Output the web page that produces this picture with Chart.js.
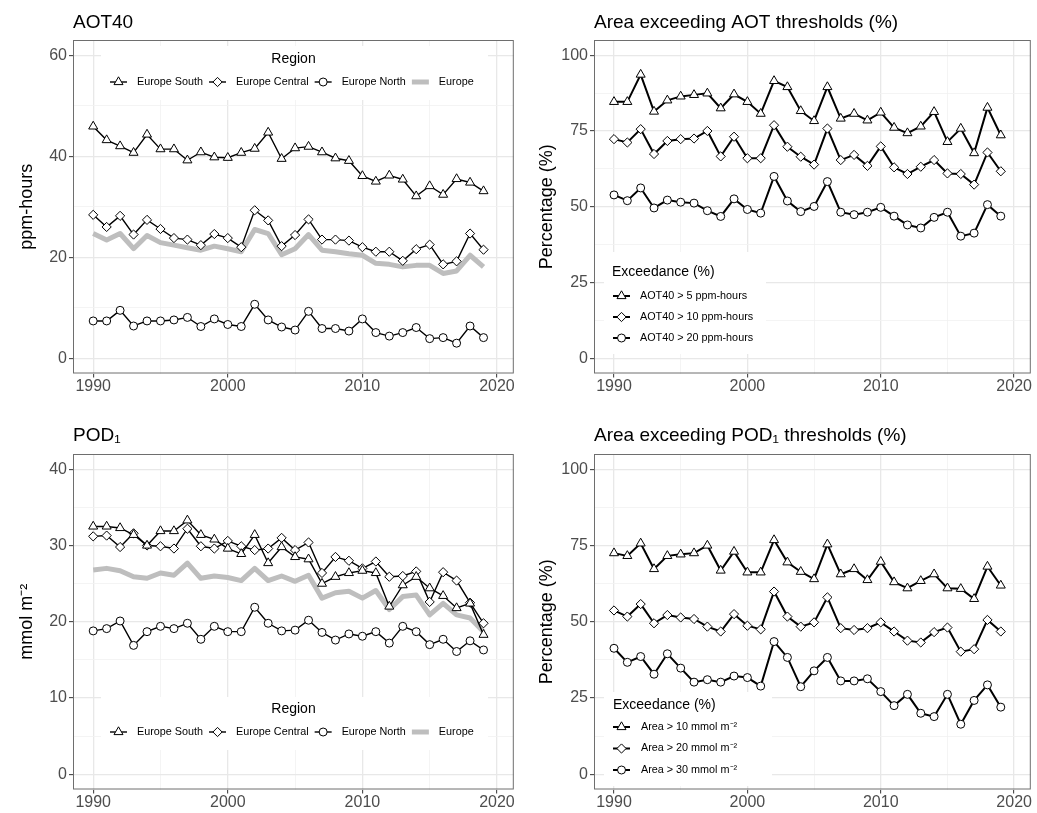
<!DOCTYPE html>
<html>
<head>
<meta charset="utf-8">
<script src="https://cdn.jsdelivr.net/npm/chart.js@4.4.1/dist/chart.umd.min.js"></script>
<style>
  html, body { margin: 0; padding: 0; background: #fff; }
  #wrap { position: relative; width: 1037px; height: 813px; overflow: hidden; }
  canvas { position: absolute; }
</style>
</head>
<body>
<div id="wrap">
  <canvas id="aot" width="520" height="400" style="left:0;top:0"></canvas>
  <canvas id="aotArea" width="517" height="400" style="left:520px;top:0"></canvas>
  <canvas id="pod" width="520" height="413" style="left:0;top:400px"></canvas>
  <canvas id="podArea" width="517" height="413" style="left:520px;top:400px"></canvas>
</div>
<script>
// ---- data ----
const years = [1990,1991,1992,1993,1994,1995,1996,1997,1998,1999,2000,2001,2002,2003,2004,
               2005,2006,2007,2008,2009,2010,2011,2012,2013,2014,2015,2016,2017,2018,2019];
const regionNames = ['Europe South', 'Europe Central', 'Europe North', 'Europe'];
const aotClassNames = ['AOT40 > 5 ppm-hours', 'AOT40 > 10 ppm-hours', 'AOT40 > 20 ppm-hours'];
const podClassNames = ['Area > 10 mmol m\u207B\u00B2', 'Area > 20 mmol m\u207B\u00B2', 'Area > 30 mmol m\u207B\u00B2'];

const xTicks = [1990,1995,2000,2005,2010,2015,2020];
const aotTicks = [0,10,20,30,40,50,60];
const pctTicks = [0,12.5,25,37.5,50,62.5,75,87.5,100];
const podTicks = [0,5,10,15,20,25,30,35,40];

// AOT40 (ppm-hours)
const aotSouth   = [45.9,43.2,42.0,40.7,44.3,41.4,41.4,39.2,40.8,39.8,39.7,40.7,41.5,44.7,39.5,
                    41.6,41.9,40.8,39.6,39.1,36.1,35.0,36.2,35.4,32.1,34.1,32.4,35.5,34.8,33.1];
const aotCentral = [28.4,26.0,28.2,24.5,27.4,25.6,23.8,23.5,22.4,24.6,23.8,22.0,29.3,27.3,22.2,
                    24.4,27.5,23.5,23.5,23.3,22.0,21.1,21.1,19.3,21.6,22.5,18.6,19.2,24.7,21.5];
const aotNorth   = [7.4,7.4,9.5,6.4,7.4,7.4,7.6,8.1,6.3,7.8,6.7,6.3,10.7,7.6,6.2,
                    5.6,9.3,5.9,5.9,5.4,7.8,5.1,4.4,5.1,6.1,3.9,4.1,3.0,6.4,4.1];
const aotEurope  = [24.7,23.4,24.7,21.7,24.3,22.9,22.4,21.9,21.4,22.2,21.7,21.1,25.5,24.7,20.5,
                    21.7,24.5,21.4,21.1,20.7,20.4,18.8,18.6,18.1,18.4,18.4,16.8,17.3,20.4,18.1];

// Area exceeding AOT thresholds (%)
const aotArea5  = [84.6,84.6,93.6,81.4,85.1,86.4,86.9,87.4,82.5,87.1,84.6,80.7,91.5,89.5,81.6,
                   78.3,89.5,79.1,80.7,78.5,81.1,76.1,74.3,76.5,81.3,71.4,75.8,67.7,82.7,73.6];
const aotArea10 = [72.3,71.2,75.6,67.4,71.7,72.3,72.5,75.0,66.6,73.1,66.0,66.0,76.9,69.8,66.5,
                   63.9,75.8,65.4,67.1,63.5,69.9,63.0,60.8,63.2,65.4,61.0,60.8,57.3,67.9,61.7];
const aotArea20 = [53.9,52.0,56.2,49.6,52.2,51.5,51.2,48.7,46.8,52.6,49.1,47.9,60.0,51.9,48.4,
                   50.1,58.3,48.2,47.4,48.2,49.8,46.9,44.0,43.0,46.5,48.2,40.3,41.3,50.7,46.9];

// POD1 (mmol m-2)
const podSouth   = [32.5,32.5,32.3,31.4,30.0,31.9,31.9,33.3,31.4,30.8,29.6,28.9,31.4,27.7,29.8,
                    28.5,28.2,25.0,25.9,26.4,26.7,26.4,22.0,24.8,25.9,24.4,23.4,21.8,22.4,18.3];
const podCentral = [31.2,31.3,29.8,31.6,30.0,29.9,29.6,32.2,29.9,29.6,30.6,29.9,29.4,29.6,31.0,
                    29.4,30.4,26.4,28.5,28.0,27.0,27.9,25.9,26.0,26.6,22.6,26.5,25.4,22.5,19.8];
const podNorth   = [18.8,19.1,20.1,16.9,18.7,19.4,19.1,19.8,17.7,19.4,18.7,18.7,21.9,19.8,18.8,
                    18.9,20.2,18.6,17.6,18.4,18.1,18.7,17.2,19.4,18.7,17.0,17.7,16.1,17.5,16.3];
const podEurope  = [26.8,27.0,26.7,25.9,25.7,26.4,26.1,27.7,25.7,26.0,25.8,25.4,27.0,25.4,26.0,
                    25.3,26.1,23.1,23.8,24.0,23.1,24.1,21.6,23.3,23.5,20.9,22.4,20.9,20.5,18.7];

// Area exceeding POD1 thresholds (%)
const podArea10 = [72.5,71.6,75.7,67.3,71.6,72.1,72.5,75.0,66.8,73.0,66.2,66.2,76.8,69.5,66.4,
                   64.0,75.4,65.6,67.3,63.7,69.7,63.0,61.0,63.4,65.6,61.0,60.8,57.5,68.1,61.9];
const podArea20 = [53.7,51.7,55.8,49.5,52.2,51.4,50.9,48.4,46.8,52.5,48.7,47.5,59.9,51.7,48.4,
                   49.8,58.0,47.9,47.3,47.9,49.8,46.8,43.8,43.2,46.6,48.1,40.2,41.0,50.6,46.8];
const podArea30 = [41.3,36.7,38.6,32.8,39.5,34.8,30.2,31.0,30.2,32.2,31.7,28.9,43.5,38.3,28.7,
                   33.9,38.3,30.6,30.6,31.3,27.1,22.5,26.2,20.0,18.9,26.2,16.4,24.2,29.3,22.0];

// ---- drawing ----
const FONT = "'Liberation Sans', Arial, sans-serif";
Chart.defaults.font.family = FONT;

function toPoints(vals) {
  return vals.map((v, i) => ({ x: years[i], y: v }));
}

function lineSeries(label, vals, style, radius, width) {
  return {
    label, data: toPoints(vals),
    borderColor: '#000', borderWidth: width,
    pointStyle: style, pointRadius: radius,
    pointBackgroundColor: '#fff', pointBorderColor: '#000', pointBorderWidth: 1,
    tension: 0, order: 0
  };
}

function greySeries(label, vals) {
  return {
    label, data: toPoints(vals),
    borderColor: '#bebebe', borderWidth: 5, borderJoinStyle: 'round',
    pointRadius: 0, tension: 0, order: 1
  };
}

function isMajor(v, step) {
  const r = Math.abs(v % step);
  return r < 1e-6 || Math.abs(r - step) < 1e-6;
}

// major lines carry a label and a tick mark, minor ones are just fainter
function gridFor(step) {
  return {
    color: c => isMajor(c.tick.value, step) ? '#e8e8e8' : '#f1f1f1',
    lineWidth: c => isMajor(c.tick.value, step) ? 1.3 : 0.8,
    tickColor: c => isMajor(c.tick.value, step) ? '#333' : 'rgba(0,0,0,0)',
    tickLength: 4,
    tickWidth: 1
  };
}

function drawMarker(ctx, style, x, y, r) {
  ctx.beginPath();
  if (style === 'triangle') {
    ctx.moveTo(x, y - r);
    ctx.lineTo(x + r * 0.866, y + r * 0.5);
    ctx.lineTo(x - r * 0.866, y + r * 0.5);
  } else if (style === 'rectRot') {
    ctx.moveTo(x - r, y);
    ctx.lineTo(x, y - r);
    ctx.lineTo(x + r, y);
    ctx.lineTo(x, y + r);
  } else {
    ctx.arc(x, y, r, 0, Math.PI * 2);
  }
  ctx.closePath();
  ctx.fillStyle = '#fff';
  ctx.fill();
  ctx.lineWidth = 1;
  ctx.strokeStyle = '#000';
  ctx.stroke();
}

function drawKey(ctx, ds, x0, y, len) {
  ctx.save();
  ctx.beginPath();
  ctx.moveTo(x0, y);
  ctx.lineTo(x0 + len, y);
  ctx.strokeStyle = ds.borderColor;
  ctx.lineWidth = ds.borderWidth;
  ctx.stroke();
  if (ds.pointRadius > 0) drawMarker(ctx, ds.pointStyle, x0 + len / 2, y, ds.pointRadius);
  ctx.restore();
}

// legend drawn inside the panel, ggplot style
const insideLegend = {
  id: 'insideLegend',
  afterDatasetsDraw(chart, args, o) {
    if (!o || !o.title) return;
    const ctx = chart.ctx, ca = chart.chartArea;
    const L = ca.left, T = ca.top;
    ctx.save();
    ctx.fillStyle = '#fff';
    ctx.fillRect(L + o.box[0], T + o.box[1], o.box[2] - o.box[0], o.box[3] - o.box[1]);
    ctx.fillStyle = '#000';
    ctx.textBaseline = 'middle';
    ctx.font = '14px ' + FONT;
    ctx.textAlign = o.titleAlign;
    ctx.fillText(o.title, L + o.titleX, T + o.titleY);
    ctx.font = '10.8px ' + FONT;
    ctx.textAlign = 'left';
    const sets = chart.data.datasets;
    if (o.layout === 'row') {
      let x = L + o.itemX;
      sets.forEach(ds => {
        drawKey(ctx, ds, x, T + o.itemY, 17);
        ctx.fillStyle = '#000';
        ctx.fillText(ds.label, x + 27, T + o.itemY);
        x += 27 + ctx.measureText(ds.label).width + 6;
      });
    } else {
      sets.forEach((ds, i) => {
        const y = T + o.itemYs[i];
        drawKey(ctx, ds, L + o.itemX, y, 17);
        ctx.fillStyle = '#000';
        ctx.fillText(ds.label, L + o.textX, y);
      });
    }
    ctx.restore();
  },
  afterDraw(chart) {
    const ctx = chart.ctx, ca = chart.chartArea;
    ctx.save();
    ctx.strokeStyle = '#6e6e6e';
    ctx.lineWidth = 1;
    ctx.strokeRect(ca.left + 0.5, ca.top + 0.5, ca.right - ca.left - 1, ca.bottom - ca.top - 1);
    ctx.restore();
  }
};

function makePanel(id, p) {
  return new Chart(document.getElementById(id), {
    type: 'line',
    data: { datasets: p.datasets },
    options: {
      responsive: false,
      animation: false,
      events: [],
      layout: { padding: { left: 0, right: p.padRight, top: 0, bottom: 0 } },
      plugins: {
        legend: { display: false },
        tooltip: { enabled: false },
        title: {
          display: true, text: p.title, align: 'start', fullSize: false, color: '#000',
          font: { size: 19, weight: 'normal' }, padding: p.titlePad
        },
        insideLegend: p.legend
      },
      scales: {
        x: {
          type: 'linear', min: 1988.5, max: 2021.25,
          afterBuildTicks: a => { a.ticks = xTicks.map(v => ({ value: v })); },
          afterFit: s => { s.height = p.xAxisH; },
          ticks: {
            callback: v => isMajor(v, 10) ? String(v) : '',
            color: '#4d4d4d', font: { size: 16 }, padding: -1, maxRotation: 0, autoSkip: false
          },
          grid: gridFor(10),
          border: { display: false }
        },
        y: {
          type: 'linear', min: p.yMin, max: p.yMax,
          afterBuildTicks: a => { a.ticks = p.yTicks.map(v => ({ value: v })); },
          afterFit: s => { s.width = p.yAxisW; },
          ticks: {
            callback: v => isMajor(v, p.yStep) ? String(v) : '',
            color: '#4d4d4d', font: { size: 16 }, padding: 2, autoSkip: false
          },
          grid: gridFor(p.yStep),
          border: { display: false },
          title: {
            display: true, text: p.yTitle, color: '#000',
            font: { size: 18 }, padding: { top: p.yTitlePad, bottom: 0 }
          }
        }
      }
    },
    plugins: [insideLegend]
  });
}

makePanel('aot', {
  title: 'AOT40', yTitle: 'ppm-hours',
  yMin: -3, yMax: 63, yTicks: aotTicks, yStep: 20,
  yAxisW: 73, padRight: 5, xAxisH: 26.5,
  titlePad: { top: 11.5, bottom: 5.7 }, yTitlePad: 16.5,
  datasets: [
    lineSeries(regionNames[0], aotSouth, 'triangle', 5.2, 1.4),
    lineSeries(regionNames[1], aotCentral, 'rectRot', 4.6, 1.4),
    lineSeries(regionNames[2], aotNorth, 'circle', 4, 1.4),
    greySeries(regionNames[3], aotEurope)
  ],
  legend: { title: 'Region', layout: 'row', box: [28, 6, 415, 60],
            titleX: 220.5, titleY: 19, titleAlign: 'center', itemX: 37, itemY: 42 }
});

makePanel('aotArea', {
  title: 'Area exceeding AOT thresholds (%)', yTitle: 'Percentage (%)',
  yMin: -5, yMax: 105, yTicks: pctTicks, yStep: 25,
  yAxisW: 74, padRight: 2, xAxisH: 26.5,
  titlePad: { top: 11.5, bottom: 5.7 }, yTitlePad: 16,
  datasets: [
    lineSeries(aotClassNames[0], aotArea5, 'triangle', 5.2, 2),
    lineSeries(aotClassNames[1], aotArea10, 'rectRot', 4.6, 2),
    lineSeries(aotClassNames[2], aotArea20, 'circle', 4, 2)
  ],
  legend: { title: 'Exceedance (%)', layout: 'col', box: [10, 212, 172, 314],
            titleX: 18, titleY: 232, titleAlign: 'left', itemX: 19, textX: 46, itemYs: [256, 277, 298] }
});

makePanel('pod', {
  title: 'POD\u2081', yTitle: 'mmol m\u207B\u00B2',
  yMin: -2, yMax: 42, yTicks: podTicks, yStep: 10,
  yAxisW: 73, padRight: 5, xAxisH: 23.5,
  titlePad: { top: 24.6, bottom: 6.6 }, yTitlePad: 16.6,
  datasets: [
    lineSeries(regionNames[0], podSouth, 'triangle', 5.2, 1.4),
    lineSeries(regionNames[1], podCentral, 'rectRot', 4.6, 1.4),
    lineSeries(regionNames[2], podNorth, 'circle', 4, 1.4),
    greySeries(regionNames[3], podEurope)
  ],
  legend: { title: 'Region', layout: 'row', box: [28, 243, 415, 296],
            titleX: 220.5, titleY: 255, titleAlign: 'center', itemX: 37, itemY: 278 }
});

makePanel('podArea', {
  title: 'Area exceeding POD\u2081 thresholds (%)', yTitle: 'Percentage (%)',
  yMin: -5, yMax: 105, yTicks: pctTicks, yStep: 25,
  yAxisW: 74, padRight: 2, xAxisH: 23.5,
  titlePad: { top: 24.6, bottom: 6.6 }, yTitlePad: 16,
  datasets: [
    lineSeries(podClassNames[0], podArea10, 'triangle', 5.2, 2),
    lineSeries(podClassNames[1], podArea20, 'rectRot', 4.6, 2),
    lineSeries(podClassNames[2], podArea30, 'circle', 4, 2)
  ],
  legend: { title: 'Exceedance (%)', layout: 'col', box: [10, 238, 178, 332],
            titleX: 19, titleY: 251, titleAlign: 'left', itemX: 19, textX: 47, itemYs: [273, 294.5, 316] }
});
</script>
</body>
</html>
